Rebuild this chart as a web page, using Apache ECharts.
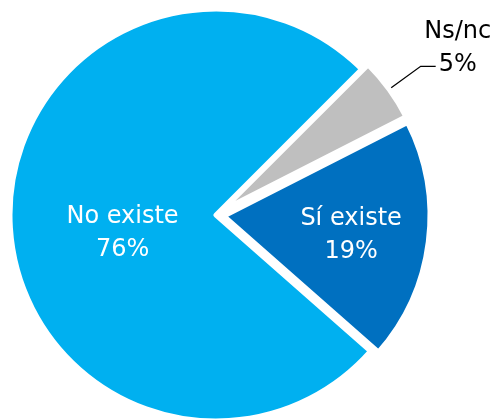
<!DOCTYPE html>
<html>
<head>
<meta charset="utf-8">
<script src="https://cdn.jsdelivr.net/npm/echarts@6/dist/echarts.min.js"></script>
<style>html,body{margin:0;padding:0;background:#fff;}#c{width:495px;height:420px;}</style>
</head>
<body>
<div id="c"></div>
<script>
const categories = ['Ns/nc', 'Sí existe', 'No existe'];
const values = [5, 19, 76];
const colors = ['#BFBFBF', '#0070C0', '#00B0F0'];

const FONT = 'DejaVu Sans';
function richText(color) {
  return { t: { color: color, fontFamily: FONT, fontSize: 24, lineHeight: 33, align: 'center' } };
}
const labelCfg = [
  { show: true, position: 'outside', formatter: '{t|{b}}\n{t|{d}%}', rich: richText('#000'),
    distanceToLabelLine: 22, padding: [0, 0, 37, 0] },
  { show: true, position: 'inside', formatter: '{t|{b}}\n{t|{d}%}', rich: richText('#fff'),
    padding: [12, 0, 0, 44] },
  { show: true, position: 'inside', formatter: '{t|{b}}\n{t|{d}%}', rich: richText('#fff'),
    padding: [30, 0, 0, 25] }
];

const data = categories.map((name, i) => ({
  name: name,
  value: values[i],
  selected: i < 2,
  itemStyle: { color: colors[i] },
  label: labelCfg[i],
  labelLine: { show: i === 0, length: 39, length2: 15, lineStyle: { color: '#000', width: 1.3 } }
}));

const chart = echarts.init(document.getElementById('c'), null, { renderer: 'canvas' });
chart.setOption({
  animation: false,
  series: [{
    type: 'pie',
    center: [216, 215],
    radius: 206,
    startAngle: 45,
    clockwise: true,
    selectedMode: 'multiple',
    selectedOffset: 8,
    avoidLabelOverlap: false,
    itemStyle: { borderColor: '#fff', borderWidth: 5 },
    emphasis: { disabled: true },
    labelLayout: function (params) {
      if (params.dataIndex === 0) {
        return { align: 'center' };
      }
    },
    data: data
  }]
});
</script>
</body>
</html>
